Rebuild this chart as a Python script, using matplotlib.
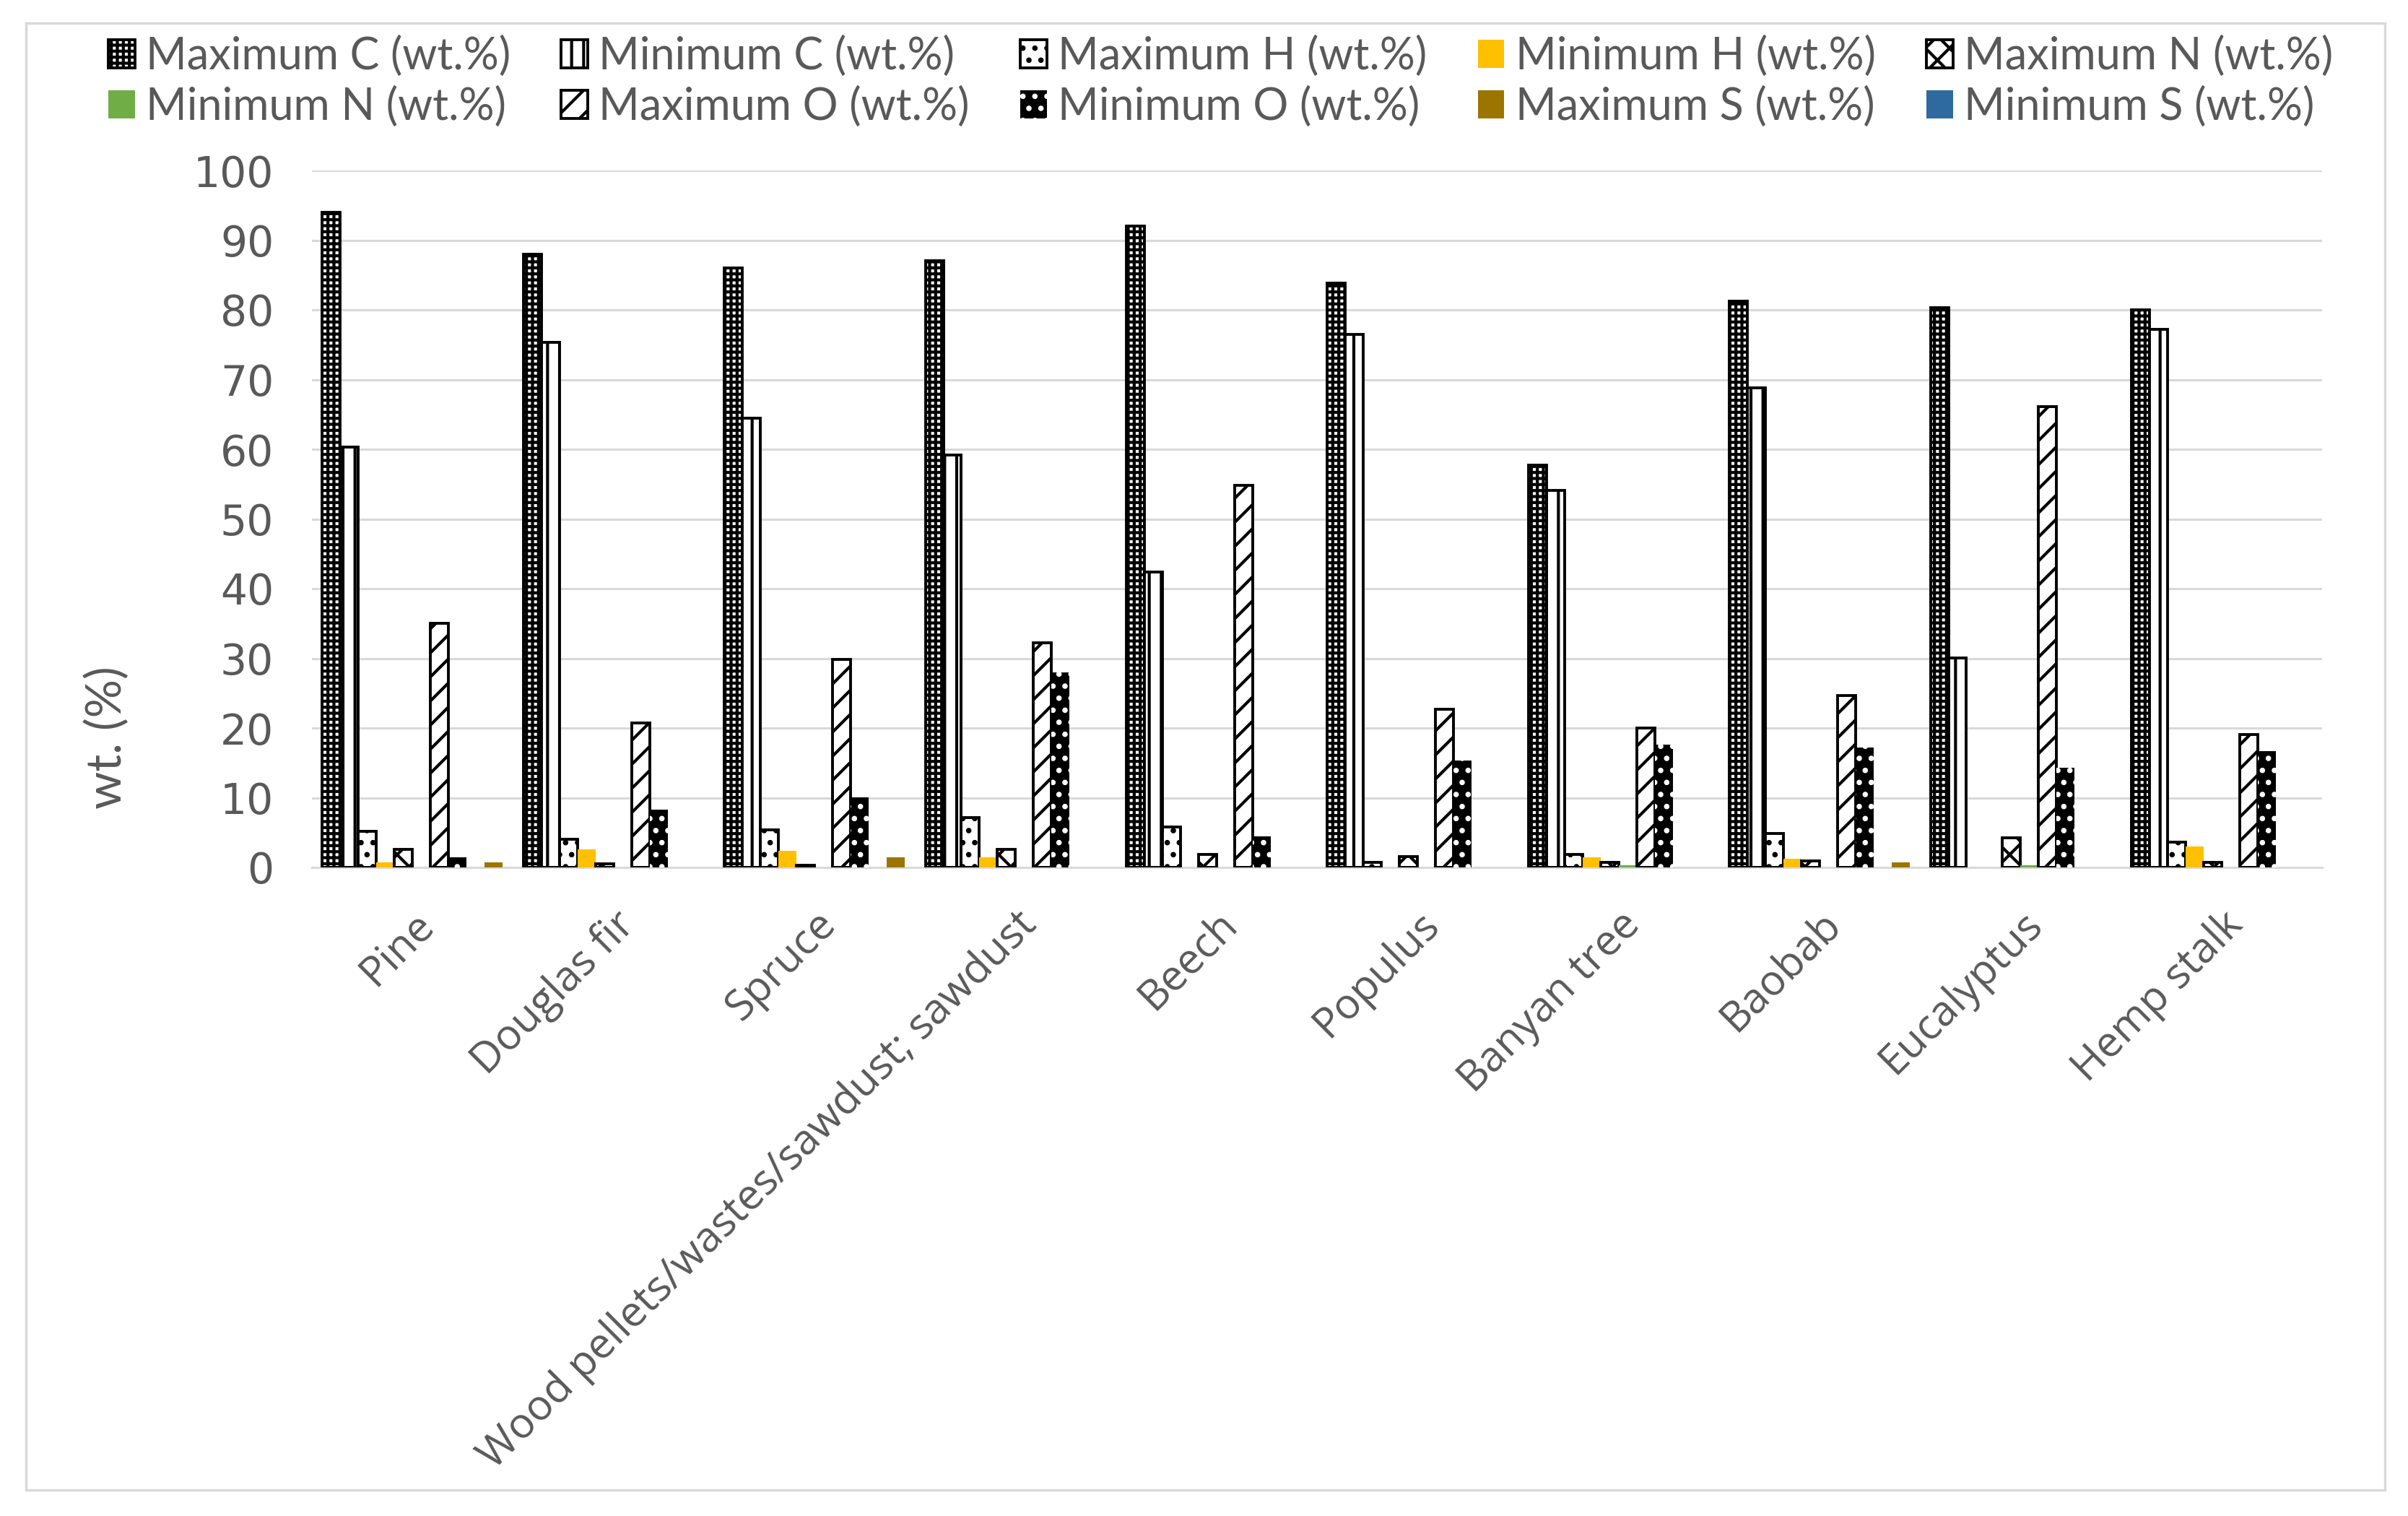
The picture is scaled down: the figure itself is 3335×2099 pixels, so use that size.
import numpy as np
import matplotlib
matplotlib.use('Agg')
import matplotlib.pyplot as plt
from matplotlib.patches import Patch, Rectangle

plt.rcParams['hatch.linewidth'] = 3.0

categories = ['Pine', 'Douglas fir', 'Spruce', 'Wood pellets/wastes/sawdust; sawdust',
              'Beech', 'Populus', 'Banyan tree', 'Baobab', 'Eucalyptus', 'Hemp stalk']

max_c = [94.0, 88.0, 86.0, 87.0, 92.0, 83.8, 57.7, 81.2, 80.3, 80.0]
min_c = [60.3, 75.3, 64.5, 59.2, 42.4, 76.5, 54.1, 68.8, 30.1, 77.2]
max_h = [5.2, 4.0, 5.4, 7.2, 5.8, 0.7, 1.9, 4.9, 0.0, 3.6]
min_h = [0.7, 2.6, 2.4, 1.5, 0.0, 0.0, 1.4, 1.2, 0.0, 3.0]
max_n = [2.6, 0.5, 0.3, 2.6, 1.9, 1.6, 0.7, 0.9, 4.2, 0.7]
min_n = [0.0, 0.0, 0.0, 0.0, 0.0, 0.0, 0.3, 0.0, 0.3, 0.0]
max_o = [35.0, 20.7, 29.8, 32.2, 54.8, 22.7, 20.0, 24.7, 66.1, 19.1]
min_o = [1.4, 8.3, 10.1, 28.0, 4.5, 15.3, 17.6, 17.2, 14.3, 16.7]
max_s = [0.7, 0.0, 1.4, 0.0, 0.0, 0.0, 0.0, 0.7, 0.0, 0.0]
min_s = [0.0, 0.0, 0.0, 0.0, 0.0, 0.0, 0.0, 0.0, 0.0, 0.0]

labels = ['Maximum C (wt.%)', 'Minimum C (wt.%)', 'Maximum H (wt.%)', 'Minimum H (wt.%)',
          'Maximum N (wt.%)', 'Minimum N (wt.%)', 'Maximum O (wt.%)', 'Minimum O (wt.%)',
          'Maximum S (wt.%)', 'Minimum S (wt.%)']
series = [max_c, min_c, max_h, min_h, max_n, min_n, max_o, min_o, max_s, min_s]

# style per series: facecolor, edgecolor, hatch, linewidth
styles = [
    dict(facecolor='white', edgecolor='black', hatch='++', linewidth=2.8),
    dict(facecolor='white', edgecolor='black', hatch='|', linewidth=2.8),
    dict(facecolor='white', edgecolor='black', hatch='.', linewidth=2.8),
    dict(facecolor='#FFC000', edgecolor='#FFC000', linewidth=0),
    dict(facecolor='white', edgecolor='black', hatch='x', linewidth=2.8),
    dict(facecolor='#70AD47', edgecolor='#70AD47', linewidth=0),
    dict(facecolor='white', edgecolor='black', hatch='/', linewidth=2.8),
    dict(facecolor='black', edgecolor='white', hatch='.', linewidth=0),
    dict(facecolor='#9C7500', edgecolor='#9C7500', linewidth=0),
    dict(facecolor='#2E6AA0', edgecolor='#2E6AA0', linewidth=0),
]
# slot of each series inside a group (the S pair sits swapped in the source chart)
slots = [0, 1, 2, 3, 4, 5, 6, 7, 9, 8]

text_color = '#595959'
grid_color = '#D9D9D9'

fig = plt.figure(figsize=(33.35, 20.99), dpi=100)
ax = fig.add_axes([432 / 3335, 898 / 2099, (3216 - 432) / 3335, (1863 - 898) / 2099])

x = np.arange(len(categories))
w = 0.0897
for vals, st, slot in zip(series, styles, slots):
    bars = ax.bar(x + (slot - 4.5) * w, vals, width=w, zorder=3, **st)
    for b, v in zip(bars, vals):
        if v == 0:
            b.set_visible(False)

ax.set_xlim(-0.5, len(categories) - 0.5)
ax.set_ylim(0, 100)
ax.set_yticks(np.arange(0, 101, 10))
ax.yaxis.grid(True, color=grid_color, linewidth=2.2, zorder=0)
ax.set_axisbelow(True)
for s in ['top', 'right', 'left']:
    ax.spines[s].set_visible(False)
ax.spines['bottom'].set_color(grid_color)
ax.spines['bottom'].set_linewidth(2.2)
ax.tick_params(axis='both', length=0)
ax.tick_params(axis='y', pad=38, labelsize=42, labelcolor=text_color)
for t in ax.get_yticklabels():
    t.set_fontfamily('DejaVu Sans')

ax.set_xticks(x)
ax.set_xticklabels(categories, rotation=45, ha='right', rotation_mode='anchor',
                   fontsize=42, color=text_color, fontfamily='Open Sans')
ax.tick_params(axis='x', pad=36)

fig.text(149 / 3335, 1 - 1021 / 2099, 'wt. (%)', rotation=90, ha='center', va='center',
         fontsize=48, color=text_color, fontfamily='Lato')

handles = [Patch(label=l, **st) for l, st in zip(labels, styles)]
order = [0, 5, 1, 6, 2, 7, 3, 8, 4, 9]
fig.legend([handles[i] for i in order], [labels[i] for i in order], ncol=5,
           loc='upper left', bbox_to_anchor=(150 / 3335, 1 - 50 / 2099),
           frameon=False, labelcolor=text_color,
           prop={'family': 'Lato', 'size': 44},
           handlelength=0.6, handleheight=0.6, handletextpad=0.25,
           columnspacing=1.15, labelspacing=0.2, borderpad=0, borderaxespad=0)

fig.patches.append(Rectangle((36 / 3335, 36 / 2099), (3303 - 36) / 3335, (2063 - 32) / 2099,
                             transform=fig.transFigure, fill=False,
                             edgecolor=grid_color, linewidth=2.5))

fig.savefig('out.png', dpi=100)
